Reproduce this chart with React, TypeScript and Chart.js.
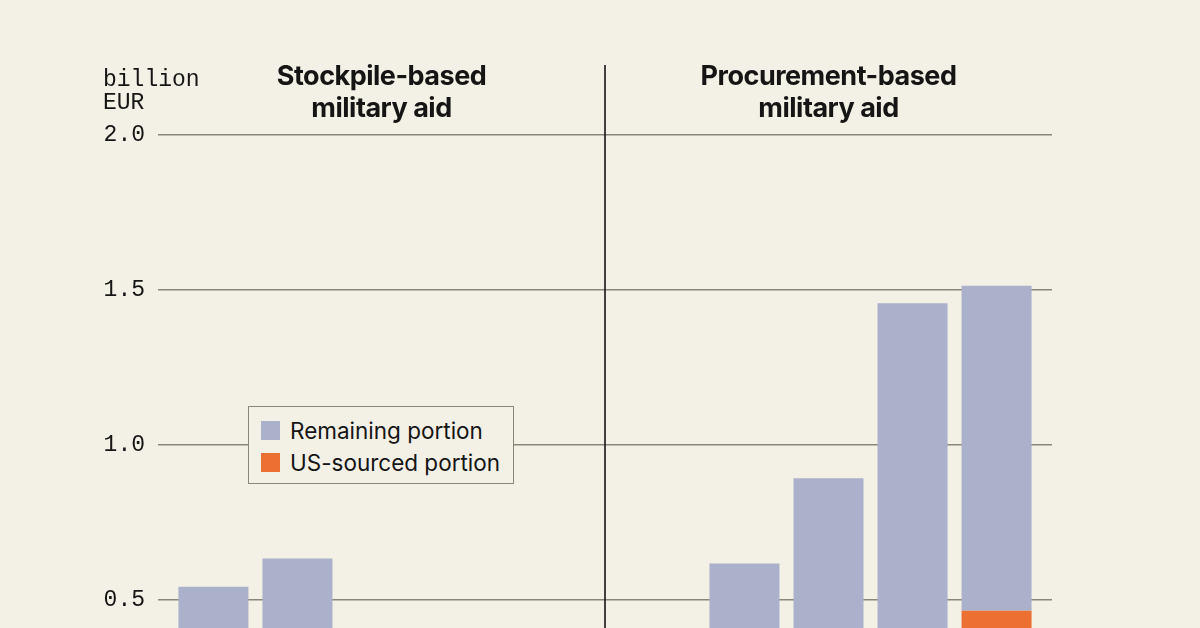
import React, { useEffect, useRef } from "react";
import { Chart, registerables } from "chart.js";

Chart.register(...registerables);

// ---- data (billion EUR) ----
const panels = ["Stockpile-based\nmilitary aid", "Procurement-based\nmilitary aid"];
// five donor slots per panel; values below the visible crop are unknown -> null
const stockpileRemaining: (number | null)[] = [0.543, 0.634, null, null, null];
const stockpileUS: (number | null)[] = [null, null, null, null, null];
const procurementRemaining: (number | null)[] = [null, 0.618, 0.893, 1.457, 1.049];
const procurementUS: (number | null)[] = [null, null, null, null, 0.465];
const yTicks = [0.5, 1.0, 1.5, 2.0];
const legendItems = ["Remaining portion", "US-sourced portion"];
const unitLabel = ["billion", "EUR"];

// ---- style ----
const BG = "#f3f0e6";
const BAR = "#abb1ca";
const ORANGE = "#ed7033";
const GRID = "#8a8678";
const INK = "#151515";
const MONO = "'Liberation Mono', 'DejaVu Sans Mono', monospace";
const SANS = "Inter, 'Noto Sans', sans-serif";

export default function App() {
  const ref = useRef<HTMLCanvasElement | null>(null);

  useEffect(() => {
    document.body.style.margin = "0";
    document.body.style.background = BG;
    const canvas = ref.current;
    if (!canvas) return;

    const datasets: any[] = [];
    for (let i = 0; i < 5; i++) {
      datasets.push({
        label: legendItems[1],
        data: [stockpileUS[i], procurementUS[i]],
        backgroundColor: ORANGE,
        stack: "s" + i,
        categoryPercentage: 0.94,
        barPercentage: 0.833,
      });
      datasets.push({
        label: legendItems[0],
        data: [stockpileRemaining[i], procurementRemaining[i]],
        backgroundColor: BAR,
        stack: "s" + i,
        categoryPercentage: 0.94,
        barPercentage: 0.833,
      });
    }

    const decor = {
      id: "decor",
      afterDatasetsDraw(chart: any) {
        const { ctx, chartArea, scales } = chart;
        const xs = scales.x;
        const x0 = xs.getPixelForValue(0);
        const x1 = xs.getPixelForValue(1);
        const mid = (x0 + x1) / 2;
        ctx.save();
        // divider
        ctx.strokeStyle = INK;
        ctx.lineWidth = 1.6;
        ctx.beginPath();
        ctx.moveTo(mid, chartArea.top);
        ctx.lineTo(mid, chart.height);
        ctx.stroke();
        // panel titles
        ctx.fillStyle = INK;
        ctx.textAlign = "center";
        ctx.textBaseline = "middle";
        ctx.font = `700 27px ${SANS}`;
        try { (ctx as any).letterSpacing = "-0.5px"; } catch (e) {}
        panels.forEach((p, i) => {
          const cx = xs.getPixelForValue(i);
          p.split("\n").forEach((line, j) => {
            ctx.fillText(line, cx, 77 + j * 32);
          });
        });
        try { (ctx as any).letterSpacing = "0px"; } catch (e) {}
        // unit label
        ctx.font = `23px ${MONO}`;
        ctx.textAlign = "left";
        ctx.textBaseline = "middle";
        unitLabel.forEach((t, j) => ctx.fillText(t, 103, 80 + j * 23));
        ctx.restore();
      },
    };

    const chart = new Chart(canvas, {
      type: "bar",
      data: { labels: panels, datasets },
      options: {
        animation: false,
        responsive: false,
        devicePixelRatio: 1,
        layout: { padding: { top: 65, right: 148, bottom: 0, left: 0 } },
        plugins: { legend: { display: false }, tooltip: { enabled: false } },
        scales: {
          x: { display: false },
          y: {
            stacked: true,
            min: 0.4097,
            max: 2.2258,
            afterBuildTicks: (scale: any) => {
              scale.ticks = yTicks.map((v) => ({ value: v }));
            },
            afterFit: (scale: any) => {
              scale.width = 158;
              scale.paddingTop = 0;
              scale.paddingBottom = 0;
            },
            border: { display: false },
            grid: { color: GRID, lineWidth: 1.6, drawTicks: false },
            ticks: {
              color: INK,
              padding: 13,
              font: { family: MONO, size: 23 },
              callback: (v: any) => Number(v).toFixed(1),
            },
          },
        },
      },
      plugins: [decor],
    });
    return () => chart.destroy();
  }, []);

  return (
    <div style={{ position: "absolute", left: 0, top: 0, width: 1200, height: 628, background: BG, overflow: "hidden" }}>
      <canvas ref={ref} width={1200} height={628} style={{ display: "block", width: 1200, height: 628 }} />
      <div
        style={{
          position: "absolute",
          left: 248,
          top: 406,
          width: 264,
          height: 76,
          border: `1.5px solid ${GRID}`,
          background: BG,
          fontFamily: SANS,
          fontSize: 22.5,
          color: INK,
        }}
      >
        {legendItems.map((t, i) => (
          <div key={t} style={{ position: "absolute", left: 12, top: 10 + i * 32, display: "flex", alignItems: "center", height: 26, whiteSpace: "nowrap" }}>
            <span style={{ display: "inline-block", width: 19, height: 19, background: i === 0 ? BAR : ORANGE, marginRight: 10 }} />
            <span>{t}</span>
          </div>
        ))}
      </div>
    </div>
  );
}
